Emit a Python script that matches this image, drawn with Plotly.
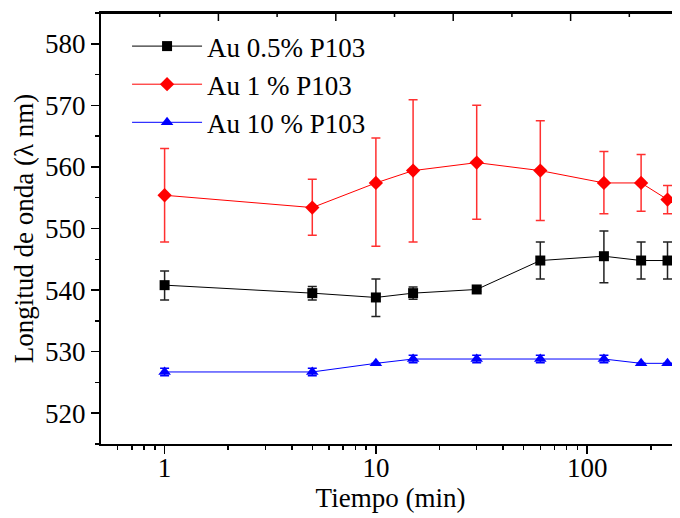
import math
import plotly.graph_objects as go

# ---- data ----
tiempo = [1, 5, 10, 15, 30, 60, 120, 180, 240]

au05 = [540.8, 539.5, 538.8, 539.5, 540.1, 544.8, 545.5, 544.8, 544.8]
au05_err_plus = [2.3, 1.1, 3.0, 1.0, 0.3, 3.0, 4.1, 3.0, 3.0]
au05_err_minus = [2.4, 1.1, 3.1, 1.0, 0.3, 3.0, 4.3, 3.0, 3.0]

au1 = [555.4, 553.4, 557.4, 559.4, 560.7, 559.4, 557.4, 557.4, 554.7]
au1_err_plus = [7.6, 4.6, 7.3, 11.5, 9.3, 8.1, 5.1, 4.6, 2.3]
au1_err_minus = [7.6, 4.5, 10.3, 11.6, 9.2, 8.1, 5.0, 4.6, 2.3]

au10 = [526.7, 526.7, 528.1, 528.8, 528.8, 528.8, 528.8, 528.1, 528.1]
au10_err = [0.6, 0.6, 0.0, 0.6, 0.6, 0.6, 0.6, 0.0, 0.0]

names = ["Au 0.5% P103", "Au 1 % P103", "Au 10 % P103"]

# top frame: evenly spaced tick marks (major every 60, minor every 30 on a 0-300 scale)
top_span = 295.9
top_major = [60, 120, 180, 240]
top_minor = [30, 90, 150, 210, 270]

FONT = "Liberation Serif"
FS = 27

fig = go.Figure()

fig.add_trace(go.Scatter(
    x=tiempo, y=au05, name=names[0], mode="lines+markers",
    line=dict(color="black", width=1),
    marker=dict(symbol="square", size=10, color="black"),
    error_y=dict(type="data", symmetric=False, array=au05_err_plus,
                 arrayminus=au05_err_minus, color="#222222", thickness=1.5, width=4.5),
))
fig.add_trace(go.Scatter(
    x=tiempo, y=au1, name=names[1], mode="lines+markers",
    line=dict(color="red", width=1),
    marker=dict(symbol="diamond", size=11, color="red"),
    error_y=dict(type="data", symmetric=False, array=au1_err_plus,
                 arrayminus=au1_err_minus, color="#ff3030", thickness=1.5, width=4.5),
))
fig.add_trace(go.Scatter(
    x=tiempo, y=au10, name=names[2], mode="lines+markers",
    line=dict(color="blue", width=1),
    marker=dict(symbol="triangle-up", size=11, color="blue"),
    error_y=dict(type="data", array=au10_err, color="blue", thickness=1.5, width=4.5),
))

# top frame line and its inward tick marks
fig.add_shape(type="line", xref="paper", yref="paper", x0=0, x1=1, y0=1, y1=1,
              line=dict(color="black", width=2), layer="above")
for v, ln in [(m, 8) for m in top_major] + [(m, 4) for m in top_minor]:
    fig.add_shape(type="line", xref="paper", yref="paper",
                  x0=v / top_span, x1=v / top_span, y0=1, y1=1 - ln / 432,
                  line=dict(color="black", width=1.5), layer="above")

minor_x = [0.6, 0.7, 0.8, 0.9, 2, 3, 4, 5, 6, 7, 8, 9,
           20, 30, 40, 50, 60, 70, 80, 90, 200]

# the page body has an 8px margin, so the figure is 8px smaller on each side
fig.update_layout(
    width=672, height=510, autosize=False,
    margin=dict(l=93, r=0, t=5, b=74, autoexpand=False),
    paper_bgcolor="white", plot_bgcolor="white",
    font=dict(family=FONT, size=FS, color="black"),
    showlegend=True,
    legend=dict(x=0.045, y=0.979, xanchor="left", yanchor="top",
                bgcolor="rgba(0,0,0,0)", font=dict(family=FONT, size=FS),
                itemwidth=70, tracegroupgap=0),
    xaxis=dict(
        type="log", range=[math.log10(0.5), math.log10(275)],
        tickmode="array", tickvals=[1, 10, 100], ticktext=["1", "10", "100"],
        ticks="outside", ticklen=8, tickwidth=1.5, tickcolor="black",
        ticklabelstandoff=-9,
        minor=dict(tickmode="array", tickvals=minor_x, ticks="outside",
                   ticklen=4, tickwidth=1.5, tickcolor="black", showgrid=False),
        showline=True, linewidth=2, linecolor="black", mirror=True,
        showgrid=False, zeroline=False, automargin=False,
        tickfont=dict(family=FONT, size=FS),
        title=dict(text="Tiempo (min)", font=dict(family=FONT, size=FS), standoff=4),
    ),
    yaxis=dict(
        range=[515, 585], tick0=520, dtick=10,
        ticks="outside", ticklen=8, tickwidth=1.5, tickcolor="black",
        minor=dict(dtick=5, ticks="outside", ticklen=4, tickwidth=1.5, tickcolor="black"),
        showline=True, linewidth=2, linecolor="black",
        showgrid=False, zeroline=False, automargin=False,
        tickfont=dict(family=FONT, size=FS),
        title=dict(text="Longitud de onda (λ nm)", font=dict(family=FONT, size=FS), standoff=4),
    ),
)

fig.write_html("out.html", config={"displayModeBar": False, "staticPlot": True})
